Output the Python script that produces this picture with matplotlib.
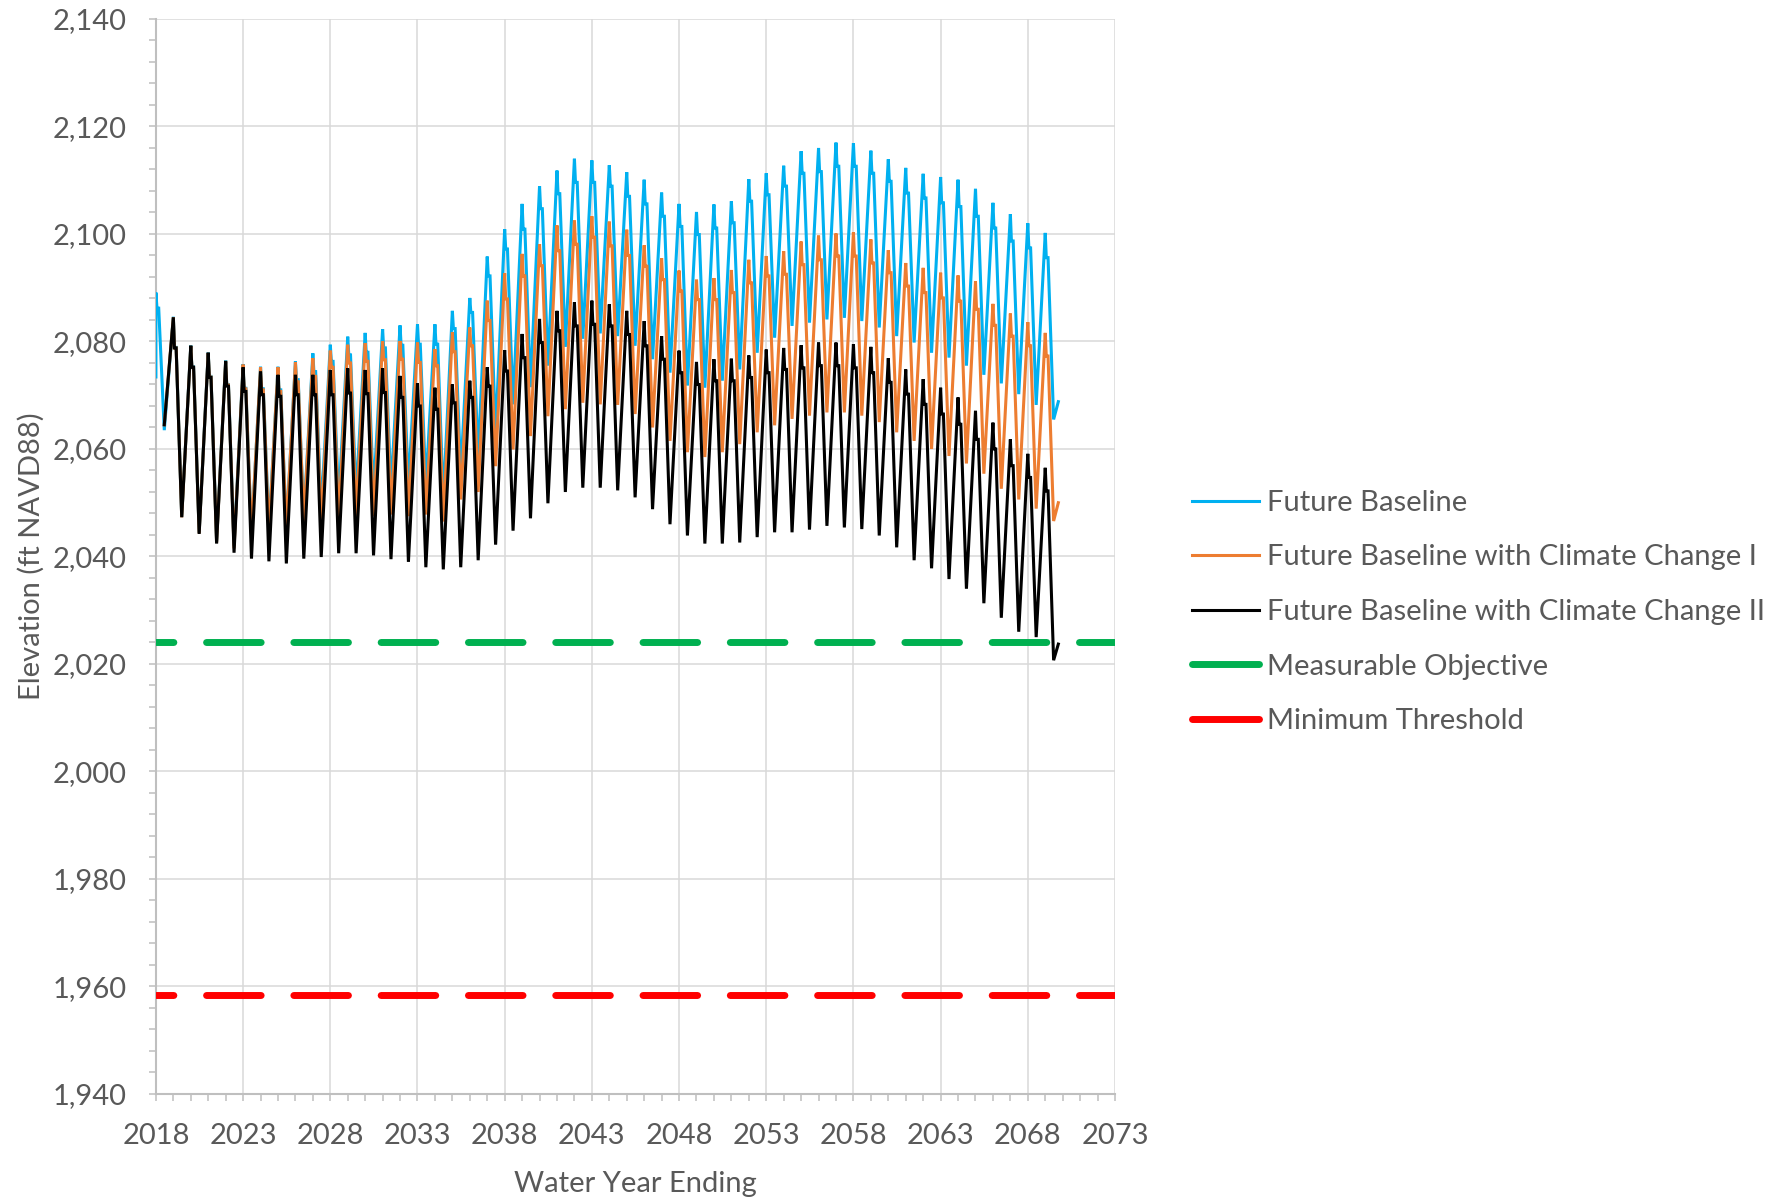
import numpy as np
import matplotlib
matplotlib.use("Agg")
import matplotlib.pyplot as plt
from matplotlib.ticker import MultipleLocator, FuncFormatter
from matplotlib.lines import Line2D

plt.rcParams['font.family'] = ['Lato', 'DejaVu Sans']

# water years (one seasonal cycle per year: spring peak, shoulder, autumn low)
years = list(range(2018, 2070))

# Future Baseline
fb_peak = [2089.1, 2084.6, 2079.3, 2078.0, 2076.5, 2075.8, 2075.3, 2075.3, 2076.3, 2077.8,
           2079.4, 2080.9, 2081.6, 2082.3, 2083.0, 2083.2, 2083.2, 2085.7, 2088.1, 2095.8,
           2100.9, 2105.6, 2108.9, 2111.8, 2114.0, 2113.7, 2112.8, 2111.5, 2110.1, 2107.7,
           2105.6, 2104.1, 2105.5, 2106.1, 2110.2, 2111.3, 2112.7, 2115.4, 2116.0, 2117.0,
           2116.9, 2115.5, 2113.9, 2112.3, 2111.2, 2110.6, 2110.1, 2108.4, 2105.8, 2103.7,
           2102.0, 2100.2]
fb_shoulder = [2086.2, 2078.9, 2075.3, 2073.5, 2072.0, 2071.3, 2071.2, 2071.0, 2072.9, 2074.4,
               2076.3, 2077.5, 2078.0, 2078.8, 2079.3, 2079.5, 2079.5, 2082.4, 2085.4, 2092.2,
               2097.2, 2100.9, 2104.7, 2107.5, 2109.6, 2109.6, 2108.9, 2107.0, 2105.6, 2103.3,
               2101.4, 2099.9, 2101.1, 2102.1, 2106.1, 2107.3, 2108.9, 2111.3, 2111.6, 2112.6,
               2112.6, 2111.3, 2109.8, 2107.6, 2106.7, 2105.8, 2105.1, 2103.3, 2101.1, 2098.7,
               2097.4, 2095.6]
fb_low = [2063.5, 2047.4, 2044.4, 2042.8, 2042.0, 2044.0, 2045.2, 2045.2, 2047.1, 2048.6,
          2050.2, 2051.4, 2051.7, 2052.5, 2053.1, 2053.1, 2050.6, 2055.3, 2058.5, 2063.0,
          2068.3, 2071.5, 2075.5, 2079.0, 2080.5, 2081.5, 2081.0, 2079.2, 2076.7, 2074.2,
          2071.8, 2071.4, 2072.7, 2074.8, 2077.9, 2080.7, 2082.9, 2083.5, 2084.1, 2084.4,
          2083.8, 2082.6, 2081.0, 2079.8, 2077.9, 2077.0, 2075.5, 2073.8, 2072.2, 2070.2,
          2068.2, 2065.5]
fb_first = 2073.4
fb_last = 2068.8

# Future Baseline with Climate Change I
cc1_peak = [np.nan, 2084.5, 2079.2, 2077.9, 2076.4, 2075.7, 2075.2, 2075.2, 2076.1, 2076.9,
            2078.3, 2079.4, 2079.7, 2080.0, 2080.1, 2079.8, 2078.6, 2081.7, 2082.6, 2087.6,
            2092.7, 2096.3, 2098.1, 2101.6, 2102.5, 2103.3, 2102.3, 2100.8, 2097.9, 2095.5,
            2093.2, 2091.5, 2091.8, 2093.3, 2095.2, 2095.9, 2096.8, 2098.6, 2099.7, 2100.1,
            2100.3, 2099.0, 2097.0, 2094.6, 2093.7, 2092.8, 2092.3, 2091.2, 2087.0, 2085.2,
            2083.6, 2081.6]
cc1_shoulder = [np.nan, 2078.8, 2075.2, 2073.4, 2071.9, 2071.2, 2071.0, 2070.7, 2072.5, 2073.5,
                2075.2, 2076.0, 2076.3, 2076.6, 2076.7, 2076.1, 2075.5, 2078.1, 2079.2, 2083.9,
                2087.9, 2092.2, 2094.1, 2096.9, 2098.1, 2099.4, 2097.8, 2096.0, 2094.0, 2091.5,
                2089.4, 2087.8, 2087.8, 2089.1, 2090.9, 2092.2, 2092.5, 2094.3, 2095.2, 2095.9,
                2095.9, 2094.6, 2092.8, 2090.3, 2089.1, 2088.1, 2087.5, 2086.0, 2083.0, 2081.0,
                2079.2, 2077.3]
cc1_low = [2064.5, 2047.3, 2044.3, 2042.6, 2041.5, 2044.0, 2044.3, 2045.0, 2046.5, 2046.0,
           2046.8, 2047.5, 2047.5, 2047.8, 2047.5, 2047.8, 2046.5, 2050.6, 2052.0, 2056.8,
           2059.9, 2062.4, 2066.1, 2067.4, 2068.6, 2068.3, 2068.2, 2066.5, 2064.0, 2061.5,
           2059.4, 2058.5, 2059.4, 2060.9, 2063.1, 2064.4, 2065.6, 2066.2, 2066.8, 2066.8,
           2066.2, 2065.0, 2063.1, 2061.5, 2060.0, 2058.7, 2057.3, 2055.4, 2052.6, 2050.6,
           2048.9, 2046.6]
cc1_last = 2050.0

# Future Baseline with Climate Change II
cc2_peak = [np.nan, 2084.5, 2079.2, 2077.9, 2076.3, 2075.2, 2074.4, 2073.8, 2073.8, 2073.8,
            2074.7, 2075.0, 2074.7, 2075.0, 2073.6, 2072.2, 2071.4, 2072.0, 2072.7, 2075.2,
            2078.4, 2081.4, 2084.2, 2085.7, 2087.3, 2087.6, 2086.9, 2085.7, 2083.8, 2081.0,
            2078.3, 2076.2, 2076.7, 2076.8, 2077.4, 2078.5, 2078.8, 2079.3, 2079.8, 2079.8,
            2079.5, 2079.0, 2076.9, 2074.8, 2073.0, 2071.4, 2069.6, 2067.1, 2064.9, 2061.8,
            2059.1, 2056.5]
cc2_shoulder = [np.nan, 2078.8, 2075.2, 2073.3, 2071.7, 2070.7, 2070.1, 2069.8, 2070.1, 2070.1,
                2070.1, 2070.4, 2070.3, 2070.5, 2069.6, 2068.0, 2067.4, 2068.6, 2069.6, 2071.7,
                2074.5, 2077.0, 2079.8, 2082.0, 2082.9, 2083.2, 2082.9, 2081.3, 2079.2, 2076.7,
                2074.2, 2072.0, 2072.7, 2072.7, 2073.3, 2074.2, 2074.8, 2075.1, 2075.5, 2075.5,
                2075.1, 2074.2, 2072.4, 2070.2, 2068.3, 2066.5, 2064.6, 2061.8, 2060.0, 2056.9,
                2054.7, 2052.2]
cc2_low = [2064.5, 2047.3, 2044.2, 2042.4, 2040.7, 2039.6, 2039.1, 2038.7, 2039.6, 2039.9,
           2040.6, 2040.6, 2040.2, 2039.5, 2039.0, 2038.0, 2037.6, 2038.0, 2039.3, 2042.2,
           2044.8, 2047.1, 2049.9, 2052.0, 2052.8, 2052.8, 2052.3, 2051.0, 2048.8, 2046.0,
           2043.9, 2042.4, 2042.4, 2042.6, 2043.6, 2044.5, 2044.5, 2045.0, 2045.7, 2045.4,
           2045.1, 2043.9, 2041.7, 2039.3, 2037.8, 2035.8, 2034.0, 2031.3, 2028.6, 2026.0,
           2025.0, 2020.7]
cc2_last = 2023.7

measurable_objective = 2024.0
minimum_threshold = 1958.5

labels = ['Future Baseline', 'Future Baseline with Climate Change I',
          'Future Baseline with Climate Change II', 'Measurable Objective',
          'Minimum Threshold']
colors = ['#00B0F0', '#ED7D31', '#000000', '#00B050', '#FF0000']


def cycle_path(peak, shoulder, low, last, first=None):
    # walk through each water year: peak, shoulder, decline to low
    t, v = [], []
    if first is not None:
        t.append(years[0])
        v.append(first)
    for yr, p, s, lo in zip(years, peak, shoulder, low):
        if not np.isnan(p):
            t += [yr, yr + 0.06, yr + 0.16]
            v += [p, s, s]
        t.append(yr + 0.48)
        v.append(lo)
    t.append(years[-1] + 0.75)
    v.append(last)
    return t, v


fig = plt.figure(figsize=(17.88, 12.01), dpi=100)
ax = fig.add_axes([0.0872, 0.0891, 0.5364, 0.8951])

series = [(fb_peak, fb_shoulder, fb_low, fb_last, fb_first),
          (cc1_peak, cc1_shoulder, cc1_low, cc1_last, None),
          (cc2_peak, cc2_shoulder, cc2_low, cc2_last, None)]
for (pk, sh, lo, last, first), c, lab in zip(series, colors, labels):
    t, v = cycle_path(pk, sh, lo, last, first)
    ax.plot(t, v, color=c, lw=2.2, label=lab, zorder=3, solid_joinstyle='miter')

dash = (5.36, (7.86, 4.71))
ax.axhline(measurable_objective, color=colors[3], lw=5.0, linestyle=dash,
           dash_capstyle='round', zorder=4)
ax.axhline(minimum_threshold, color=colors[4], lw=5.0, linestyle=dash,
           dash_capstyle='round', zorder=4)

ax.set_xlim(2018, 2073)
ax.set_ylim(1940, 2140)
ax.set_xticks(range(2018, 2074, 5))
ax.xaxis.set_minor_locator(MultipleLocator(1))
ax.set_yticks(range(1940, 2141, 20))
ax.yaxis.set_minor_locator(MultipleLocator(4))
ax.yaxis.set_major_formatter(FuncFormatter(lambda x, p: '{:,.0f}'.format(x)))

ax.grid(True, which='major', color='#d9d9d9', lw=1.1, zorder=0)
ax.set_axisbelow(True)
for s in ['top', 'right']:
    ax.spines[s].set_visible(False)
for s in ['left', 'bottom']:
    ax.spines[s].set_color('#bfbfbf')
    ax.spines[s].set_linewidth(1.5)

txt = '#595959'
fs = 21
ax.tick_params(which='both', direction='out', length=5, width=1.1, color='#bfbfbf')
ax.tick_params(axis='x', which='major', labelsize=fs, labelcolor=txt, pad=16)
ax.tick_params(axis='y', which='major', labelsize=fs, labelcolor=txt, pad=16)

ax.set_xlabel('Water Year Ending', fontsize=fs, color=txt)
ax.set_ylabel('Elevation (ft NAVD88)', fontsize=fs, color=txt)
ax.xaxis.set_label_coords(0.5, -0.0716)
ax.yaxis.set_label_coords(-0.116, 0.5)

handles = [Line2D([], [], color=colors[0], lw=2.2),
           Line2D([], [], color=colors[1], lw=2.2),
           Line2D([], [], color=colors[2], lw=2.2),
           Line2D([], [], color=colors[3], lw=5.0, solid_capstyle='round'),
           Line2D([], [], color=colors[4], lw=5.0, solid_capstyle='round')]
fig.legend(handles, labels, loc='upper left', bbox_to_anchor=(0.6667, 0.5922),
           frameon=False, fontsize=fs, labelcolor=txt, handlelength=2.3,
           handletextpad=0.28, labelspacing=0.98, borderpad=0, borderaxespad=0)

fig.savefig('out.png', dpi=100)
